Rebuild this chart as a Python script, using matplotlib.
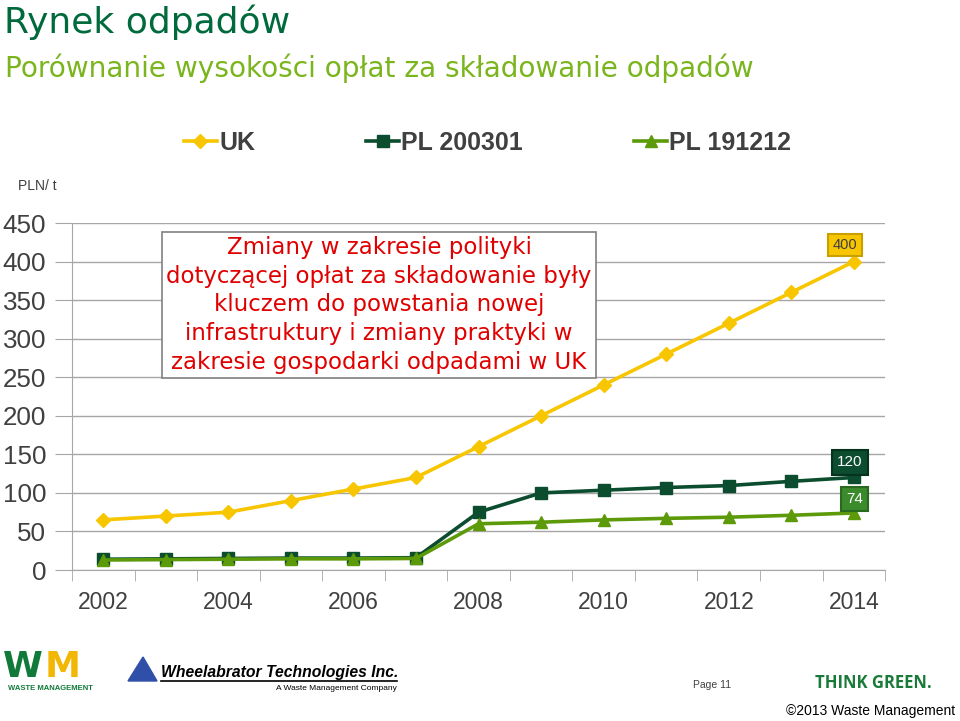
import matplotlib
matplotlib.use("Agg")
import matplotlib.pyplot as plt
from matplotlib.patches import Polygon
import numpy as np

plt.rcParams['font.family'] = ['Liberation Sans', 'DejaVu Sans']

lata = [2002, 2003, 2004, 2005, 2006, 2007, 2008, 2009, 2010, 2011, 2012, 2013, 2014]
uk = [65, 70, 75, 90, 105, 120, 160, 200, 240, 280, 320, 360, 400]
pl_200301 = [14, 14.5, 15, 15.5, 15.5, 16, 75, 100, 103.5, 107, 109.5, 115, 120]
pl_191212 = [13, 13.5, 14, 14.5, 14.5, 15, 60, 62, 65, 67, 68.5, 71, 74]
etykiety_x = ["2002", "2004", "2006", "2008", "2010", "2012", "2014"]
serie = ["UK", "PL 200301", "PL 191212"]

zolty = "#f7c600"
ciemny = "#0b4d2e"
oliwka = "#5c9a0a"
szary = "#404040"

fig = plt.figure(figsize=(9.6, 7.21), dpi=100)
ax = fig.add_axes([0.075, 0.2094, 0.847, 0.4813])

x = np.arange(len(lata))
ax.plot(x, uk, color=zolty, lw=2.6, marker="D", ms=7.5, label=serie[0])
ax.plot(x, pl_200301, color=ciemny, lw=2.6, marker="s", ms=8, label=serie[1])
ax.plot(x, pl_191212, color=oliwka, lw=2.6, marker="^", ms=9, label=serie[2])

ax.set_xlim(-0.5, len(lata) - 0.5)
ax.set_ylim(0, 450)
ax.set_yticks(np.arange(0, 451, 50))
ax.yaxis.grid(True, color="#a6a6a6", lw=1)
ax.set_axisbelow(True)
ax.set_xticks(x[::2])
ax.set_xticklabels(etykiety_x)
ax.set_xticks(np.arange(-0.5, len(lata), 1), minor=True)
ax.tick_params(axis="x", which="major", length=0, pad=15, labelsize=16.5, labelcolor=szary)
ax.tick_params(axis="x", which="minor", length=8, color="#a6a6a6", direction="out")
ax.tick_params(axis="y", length=12, color="#a6a6a6", pad=6.5, labelsize=18.7, labelcolor=szary)
for s in ["top", "right"]:
    ax.spines[s].set_visible(False)
for s in ["left", "bottom"]:
    ax.spines[s].set_color("#a6a6a6")

# etykiety danych
ax.annotate(str(uk[-1]), (x[-1], uk[-1]), xytext=(-6.5, 12), textcoords="offset points",
            ha="center", va="center", fontsize=10.5, color=szary,
            bbox=dict(boxstyle="square,pad=0.3", fc=zolty, ec="#c9a000", lw=1.5))
ax.annotate(str(pl_200301[-1]), (x[-1], pl_200301[-1]), xytext=(-3, 11), textcoords="offset points",
            ha="center", va="center", fontsize=11, color="white",
            bbox=dict(boxstyle="square,pad=0.35", fc=ciemny, ec="#06331d", lw=1.5))
ax.annotate(str(pl_191212[-1]), (x[-1], pl_191212[-1]), xytext=(0.5, 10), textcoords="offset points",
            ha="center", va="center", fontsize=11, color="white",
            bbox=dict(boxstyle="square,pad=0.35", fc="#3b8a2c", ec="#2a6a1e", lw=1.5))

# ramka z komentarzem
komentarz = ("Zmiany w zakresie polityki\n"
             "dotyczącej opłat za składowanie były\n"
             "kluczem do powstania nowej\n"
             "infrastruktury i zmiany praktyki w\n"
             "zakresie gospodarki odpadami w UK")
fig.text(379 / 960, 1 - 305 / 721, komentarz, ha="center", va="center", fontsize=16.5,
         color="#e00000", linespacing=1.31, family="DejaVu Sans",
         bbox=dict(boxstyle="square,pad=0.2", fc="white", ec="#808080", lw=1.2))

# legenda
leg = fig.legend(loc="center", bbox_to_anchor=(0.508, 1 - 143 / 721), ncol=3, frameon=False,
                 columnspacing=4.45, handlelength=1.3, handletextpad=0.1,
                 prop=dict(weight="bold", size=18))
for t in leg.get_texts():
    t.set_color(szary)

# tytuły
fig.text(4 / 960, 1 - 22 / 721, "Rynek odpadów", fontsize=26, color="#006a3c", va="center",
         family="DejaVu Sans")
fig.text(5 / 960, 1 - 68 / 721, "Porównanie wysokości opłat za składowanie odpadów", fontsize=20.2,
         color="#7ab51d", va="center", family="DejaVu Sans")
fig.text(18 / 960, 1 - 186 / 721, "PLN/ t", fontsize=10, color=szary, va="center")

# stopka
fig.text(3 / 960, 1 - 667 / 721, "W", fontsize=26, weight="heavy", color="#117a3a", va="center",
         family="DejaVu Sans")
fig.text(45 / 960, 1 - 667 / 721, "M", fontsize=26, weight="heavy", color="#f2b705", va="center",
         family="DejaVu Sans")
fig.text(50 / 960, 1 - 689 / 721, "WASTE MANAGEMENT", fontsize=5.5, weight="bold", color="#117a3a",
         ha="center", va="center")
trojkat = Polygon([[128 / 960, 1 - 681 / 721], [157 / 960, 1 - 681 / 721], [143 / 960, 1 - 657 / 721]],
                  closed=True, transform=fig.transFigure, fc="#2f4fa8", ec="#2f4fa8")
fig.patches.append(trojkat)
fig.text(161 / 960, 1 - 672 / 721, "Wheelabrator Technologies Inc.", fontsize=11.3, weight="bold",
         style="italic", color="black", va="center")
fig.add_artist(plt.Line2D([161 / 960, 397 / 960], [1 - 681 / 721, 1 - 681 / 721], color="black", lw=1.2,
                          transform=fig.transFigure))
fig.text(397 / 960, 1 - 688 / 721, "A Waste Management Company", fontsize=6, color="black",
         ha="right", va="center")
fig.text(693 / 960, 1 - 685 / 721, "Page 11", fontsize=7.5, color=szary, va="center")
fig.text(815 / 960, 1 - 683 / 721, "THINK GREEN.", fontsize=12, weight="bold", color="#1a7a3a",
         va="center", family="Open Sans")
fig.text(955 / 960, 1 - 711 / 721, "©2013 Waste Management", fontsize=10, color="black",
         ha="right", va="center")

fig.savefig("out.png", dpi=100)
